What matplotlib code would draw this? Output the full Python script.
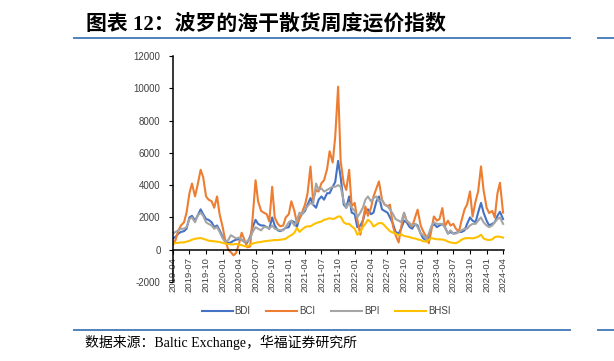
import matplotlib
matplotlib.use("Agg")
import matplotlib.pyplot as plt
import pandas as pd
from matplotlib.lines import Line2D

# ---- data (semi-monthly readings, 2019-04 .. 2024-04) ----
dates = pd.date_range("2019-04-01", "2024-04-01", freq="SMS")

bdi = ([700, 800, 1000, 1100, 1150, 1300, 2000, 2100, 1800, 2100, 2500, 2200, 1900, 1850, 1700, 1400, 1500, 1200]
       + [800, 500, 420, 450, 550, 620, 650, 620, 480, 420, 800, 1400, 1850, 1600, 1500, 1500, 1400, 1300, 2000, 1500, 1200, 1150, 1250, 1350]
       + [1400, 1800, 1700, 1400, 2000, 2200, 2400, 2800, 3200, 2800, 2600, 3100, 3300, 3100, 3500, 3500, 3900, 4200, 5500, 4500, 2800, 2600, 3300, 2300]
       + [2200, 1400, 1500, 1800, 2400, 2500, 2200, 2300, 3000, 3300, 2500, 2400, 2300, 2000, 1600, 1100, 1000, 1300, 1800, 1700, 1400, 1300, 1600, 1500]
       + [1000, 700, 600, 700, 1400, 1600, 1400, 1500, 1600, 1400, 1000, 1100, 1000, 1050, 1100, 1100, 1200, 1600, 2000, 1800, 1700, 2300, 2900, 2300]
       + [1800, 1500, 1600, 1700, 2100, 2350, 1900])

bci = ([300, 600, 1200, 1500, 1700, 2300, 3500, 4100, 3300, 4000, 4950, 4500, 3300, 3100, 3000, 2600, 3300, 2200]
       + [1400, 600, 0, -150, -350, -200, 400, 1050, 600, 150, 200, 2000, 4300, 3000, 2400, 2300, 2200, 1750, 3900, 2000, 1600, 1450, 1500, 2000]
       + [2200, 3000, 2400, 1650, 1900, 2300, 2800, 3500, 5150, 3100, 3700, 3600, 4130, 4300, 5000, 6100, 5400, 7000, 10100, 5500, 4100, 3700, 4950, 2700]
       + [2900, 1860, 930, 1800, 2680, 2100, 2600, 3300, 3800, 4230, 3100, 2800, 2700, 2790, 1440, 900, 450, 1400, 2270, 1800, 1600, 1440, 2000, 2480]
       + [1500, 1130, 820, 400, 1200, 2060, 1800, 1900, 2580, 1440, 1800, 1500, 1600, 1300, 1130, 1800, 2500, 2800, 3610, 2060, 3000, 3600, 5160, 3700]
       + [2600, 2270, 2400, 2000, 3500, 4150, 2300])

bpi = ([1000, 1100, 1200, 1300, 1300, 1400, 1900, 2000, 1700, 2100, 2300, 2100, 1700, 1600, 1500, 1300, 1400, 1100]
       + [700, 500, 600, 900, 800, 700, 750, 600, 500, 500, 700, 1100, 1400, 1300, 1200, 1400, 1400, 1300, 1500, 1300, 1250, 1200, 1200, 1400]
       + [1700, 1800, 1500, 1800, 2300, 2200, 2500, 2700, 2900, 2800, 4100, 3700, 3800, 3600, 3700, 3800, 3900, 3900, 4000, 3900, 3000, 2600, 2900, 2600]
       + [2400, 2000, 2300, 2600, 3100, 3300, 3000, 3200, 3300, 3000, 3100, 2800, 2700, 2500, 2200, 1900, 1800, 1700, 2300, 1800, 1650, 1500, 1600, 1400]
       + [1000, 900, 650, 1000, 1450, 1700, 1600, 1600, 1600, 1400, 1000, 1200, 1000, 1000, 1100, 1200, 1300, 1300, 1500, 1600, 1600, 1800, 2000, 1700]
       + [1500, 1400, 1500, 1700, 1900, 2000, 1600])

bhsi = ([400, 420, 430, 450, 450, 500, 550, 620, 680, 700, 720, 680, 620, 560, 540, 520, 500, 480]
        + [420, 380, 350, 330, 330, 360, 320, 280, 220, 200, 300, 380, 430, 460, 480, 520, 540, 560, 580, 600, 600, 620, 640, 680]
        + [820, 900, 1050, 1350, 1100, 1250, 1400, 1450, 1450, 1550, 1650, 1700, 1750, 1850, 1900, 1950, 1900, 1950, 2060, 2050, 1700, 1600, 1600, 1450]
        + [1300, 930, 1100, 1400, 1600, 1860, 1700, 1440, 1550, 1650, 1650, 1500, 1300, 1150, 1050, 1000, 900, 950, 850, 820, 780, 720, 700, 640]
        + [600, 520, 500, 620, 720, 680, 650, 640, 630, 600, 500, 450, 420, 400, 500, 620, 700, 720, 720, 700, 750, 800, 930, 700]
        + [620, 600, 640, 780, 820, 800, 750])

series_names = ["BDI", "BCI", "BPI", "BHSI"]
series_colors = ["#4472C4", "#ED7D31", "#A5A5A5", "#FFC000"]
tick_dates = pd.date_range("2019-04-01", "2024-04-01", freq="3MS")
tick_labels = [d.strftime("%Y-%m") for d in tick_dates]
y_ticks = list(range(-2000, 12001, 2000))

title = "图表 12：波罗的海干散货周度运价指数"
source = "数据来源：Baltic Exchange，华福证券研究所"

# ---- figure ----
W, H = 614, 361
fig = plt.figure(figsize=(W / 100, H / 100), dpi=100)
ax = fig.add_axes([173 / W, 1 - 282 / H, (504.5 - 173) / W, (282 - 56) / H])

for vals, name, col in zip([bdi, bci, bpi, bhsi], series_names, series_colors):
    ax.plot(dates, vals, color=col, lw=1.5, label=name, solid_joinstyle="round")

ax.set_xlim(pd.Timestamp("2019-04-01"), pd.Timestamp("2024-04-09"))
ax.set_ylim(-2000, 12000)
ax.set_yticks(y_ticks)
ax.set_yticklabels([str(v) for v in y_ticks])
ax.set_xticks(tick_dates)
ax.set_xticklabels(tick_labels)

for s in ["top", "right"]:
    ax.spines[s].set_visible(False)
ax.spines["bottom"].set_position(("data", 0))
ax.spines["left"].set_color("black")
ax.spines["bottom"].set_color("black")
ax.spines["left"].set_linewidth(1.1)
ax.spines["bottom"].set_linewidth(1.1)

ax.tick_params(axis="y", direction="out", length=3, width=0.8, pad=6,
               labelsize=7, labelcolor="#404040")
ax.tick_params(axis="x", direction="out", length=3, width=0.8, pad=2,
               labelsize=6.8, labelcolor="#404040", labelrotation=90)
for lab in ax.get_xticklabels() + ax.get_yticklabels():
    lab.set_family("Liberation Sans")
for lab in ax.get_xticklabels():
    lab.set_rotation(90)
    lab.set_ha("center")
    lab.set_va("top")

leg = fig.legend(loc="center", bbox_to_anchor=(326 / W, 1 - 311 / H), ncol=4,
                 frameon=False, handlelength=3.2, handletextpad=0.2,
                 columnspacing=1.6, prop={"family": "Liberation Sans", "size": 7})
for t in leg.get_texts():
    t.set_color("#404040")

# title and decorations
fig.text(86 / W, 1 - 24 / H, title, fontsize=15, fontweight="bold",
         family=["Liberation Serif", "Noto Sans CJK SC"], va="center", ha="left", color="black")
line_col = "#4F81BD"
fig.add_artist(Line2D([74 / W, 570 / W], [1 - 38 / H] * 2, color=line_col, lw=1.4))
fig.add_artist(Line2D([598 / W, 1.0], [1 - 38 / H] * 2, color=line_col, lw=1.4))
fig.add_artist(Line2D([74 / W, 570 / W], [1 - 330 / H] * 2, color=line_col, lw=1.4))
fig.add_artist(Line2D([598 / W, 1.0], [1 - 330 / H] * 2, color=line_col, lw=1.4))
fig.text(85 / W, 1 - 342 / H, source, fontsize=10,
         family=["Liberation Serif", "Noto Sans CJK SC"], va="center", ha="left", color="black")

fig.savefig("out.png", dpi=100)
